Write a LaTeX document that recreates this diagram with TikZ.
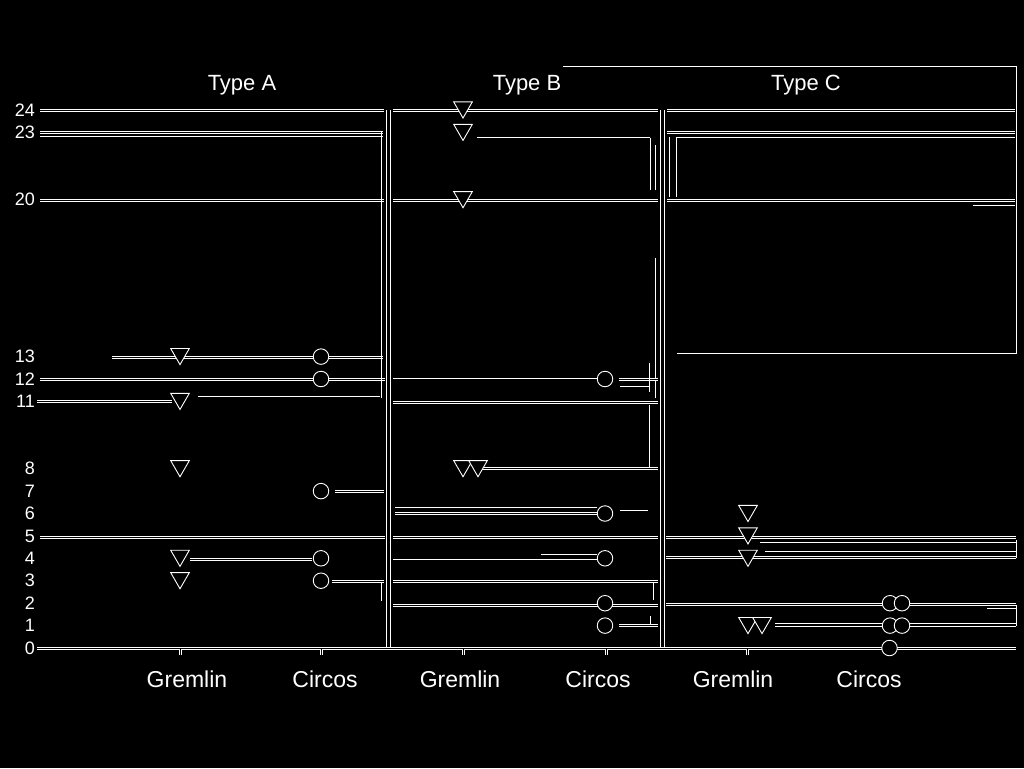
\documentclass[tikz,border=0pt]{standalone}
\usepackage{fontspec}
\setmainfont{Liberation Sans}
\usetikzlibrary{shapes.geometric}
\tikzset{
  grid/.style={draw=white, line width=0.9pt, double=black, double distance=1.4pt},
  hair/.style={draw=white, line width=0.8pt},
  sep/.style={draw=white, line width=0.9pt, double=black, double distance=3pt},
  tri/.style={regular polygon, regular polygon sides=3, shape border rotate=180,
    draw=white, fill=black, line width=0.9pt, minimum size=21.5pt, inner sep=0pt, yshift=2.7pt},
  circ/.style={circle, draw=white, fill=black, line width=0.9pt, minimum size=15.5pt, inner sep=0pt},
  ylab/.style={anchor=east, text=white, font=\fontsize{18}{20}\selectfont, inner sep=0pt},
  xlab/.style={text=white, font=\fontsize{23}{26}\selectfont, inner sep=1pt},
  ttl/.style={text=white, font=\fontsize{22}{25}\selectfont, fill=black, inner sep=2pt}
}
\begin{document}
\begin{tikzpicture}[x=1pt,y=-1pt]
\useasboundingbox (0,0) rectangle (1024,768);
\fill[black] (0,0) rectangle (1024,768);

% ---------- Panel A gridlines ----------
\draw[grid] (40,110.5) -- (384,110.5);
\draw[grid] (40,132.5) -- (383,132.5);
\draw[hair] (40,136.5) -- (383,136.5);
\draw[grid] (40,200.5) -- (384,200.5);
\draw[grid] (112,357.5) -- (383,357.5);
\draw[grid] (40,379.5) -- (385,379.5);
\draw[grid] (37,401.5) -- (172,401.5);
\draw[hair] (198,396.5) -- (380,396.5);
\draw[hair] (381.5,132) -- (381.5,398);
\draw[grid] (335,491.5) -- (384,491.5);
\draw[grid] (40,537.5) -- (385,537.5);
\draw[grid] (190,559.5) -- (312,559.5);
\draw[grid] (332,581.5) -- (384,581.5);
\draw[hair] (381.5,583) -- (381.5,601);

% ---------- Panel B gridlines ----------
\draw[grid] (393,110.5) -- (658,110.5);
\draw[hair] (477,137.5) -- (650,137.5);
\draw[hair] (650.5,137.5) -- (650.5,190);
\draw[hair] (655.5,145) -- (655.5,190);
\draw[grid] (393,200.5) -- (658,200.5);
\draw[hair] (655.5,258) -- (655.5,398);
\draw[hair] (393,378.5) -- (597,378.5);
\draw[grid] (619,379.5) -- (658,379.5);
\draw[hair] (620,386.5) -- (649,386.5);
\draw[hair] (649.5,363) -- (649.5,392);
\draw[grid] (393,402.5) -- (658,402.5);
\draw[hair] (649.5,405) -- (649.5,467);
\draw[grid] (480,468.5) -- (658,468.5);
\draw[hair] (395,507.5) -- (597,507.5);
\draw[grid] (395,513.5) -- (597,513.5);
\draw[hair] (620,510.5) -- (648,510.5);
\draw[grid] (393,537.5) -- (658,537.5);
\draw[hair] (541,554.5) -- (597,554.5);
\draw[hair] (393,559.5) -- (597,559.5);
\draw[grid] (393,581.5) -- (658,581.5);
\draw[hair] (653.5,583) -- (653.5,600);
\draw[grid] (393,605.5) -- (658,605.5);
\draw[grid] (619,625.5) -- (658,625.5);
\draw[hair] (650.5,616) -- (650.5,624);

% ---------- Panel C gridlines ----------
\draw[hair] (563,66.5) -- (1016.5,66.5) -- (1016.5,353.5) -- (677,353.5);
\draw[grid] (667,110.5) -- (1015,110.5);
\draw[grid] (667,132.5) -- (1015,132.5);
\draw[hair] (677,137.5) -- (1015,137.5);
\draw[hair] (669.5,137) -- (669.5,197);
\draw[hair] (676.5,137) -- (676.5,197);
\draw[grid] (667,200.5) -- (1015,200.5);
\draw[hair] (973,205.5) -- (1015,205.5);
\draw[grid] (666,537.5) -- (1016,537.5);
\draw[hair] (760,542.5) -- (1016,542.5);
\draw[hair] (765,551.5) -- (1016,551.5);
\draw[hair] (1016.5,540) -- (1016.5,558);
\draw[grid] (666,557.5) -- (1016,557.5);
\draw[grid] (666,604.5) -- (1016,604.5);
\draw[hair] (987,608.5) -- (1016,608.5);
\draw[hair] (775,623.5) -- (1016,623.5);
\draw[hair] (775,626.5) -- (1016,626.5);
\draw[hair] (1016.5,605) -- (1016.5,626);

% ---------- panel separators and axis ----------
\draw[sep] (388.5,110) -- (388.5,648);
\draw[sep] (662.5,110) -- (662.5,648);
\draw[grid] (37,648.5) -- (1016,648.5);
\foreach \tx in {180.5,321.5,463.5,606.5,747.5,889.5} \draw[grid] (\tx,649) -- (\tx,655);

% ---------- titles ----------
\node[ttl] (tA) at (242,85) {Type A};
\node[ttl] (tB) at (527,85) {Type B};
\node[ttl] (tC) at (806,85) {Type C};

% ---------- y labels ----------
\foreach \v/\yy in {0/648,1/625.6,2/603.2,3/580.7,4/558.3,5/535.9,6/513.5,7/491.1,8/468.7,11/401.4,12/379,13/356.6,20/199.7,23/132.4,24/110}
  \node[ylab] (y\v) at (35,\yy) {\v};

% ---------- x labels ----------
\node[xlab] (gA) at (187,679) {Gremlin};
\node[xlab] (cA) at (325,679) {Circos};
\node[xlab] (gB) at (460,679) {Gremlin};
\node[xlab] (cB) at (598,679) {Circos};
\node[xlab] (gC) at (733,679) {Gremlin};
\node[xlab] (cC) at (869,679) {Circos};

% ---------- Type A markers ----------
\node[tri] (a1) at (180,356.6) {};
\node[tri] (a2) at (180,401.4) {};
\node[tri] (a3) at (180,468.7) {};
\node[tri] (a4) at (180,558.3) {};
\node[tri] (a5) at (180,580.7) {};
\node[circ] (ac1) at (321,356.6) {};
\node[circ] (ac2) at (321,379) {};
\node[circ] (ac3) at (321,491.1) {};
\node[circ] (ac4) at (321,558.3) {};
\node[circ] (ac5) at (321,580.7) {};

% ---------- Type B markers ----------
\node[tri] (b1) at (463,110) {};
\node[tri] (b2) at (463,132.4) {};
\node[tri] (b3) at (463,199.7) {};
\node[tri] (b4) at (463,468.7) {};
\node[tri] (b5) at (478,468.7) {};
\node[circ] (bc1) at (605,379) {};
\node[circ] (bc2) at (605,513.5) {};
\node[circ] (bc3) at (605,558.3) {};
\node[circ] (bc4) at (605,603.2) {};
\node[circ] (bc5) at (605,625.6) {};

% ---------- Type C markers ----------
\node[tri] (c1) at (748,513.5) {};
\node[tri] (c2) at (748,535.9) {};
\node[tri] (c3) at (748,558.3) {};
\node[tri] (c4) at (748,625.6) {};
\node[tri] (c5) at (762,625.6) {};
\node[circ] (cc1) at (890,603.2) {};
\node[circ] (cc2) at (902,603.2) {};
\node[circ] (cc3) at (890,625.6) {};
\node[circ] (cc4) at (902,625.6) {};
\node[circ] (cc5) at (889.5,648) {};
\end{tikzpicture}
\end{document}
